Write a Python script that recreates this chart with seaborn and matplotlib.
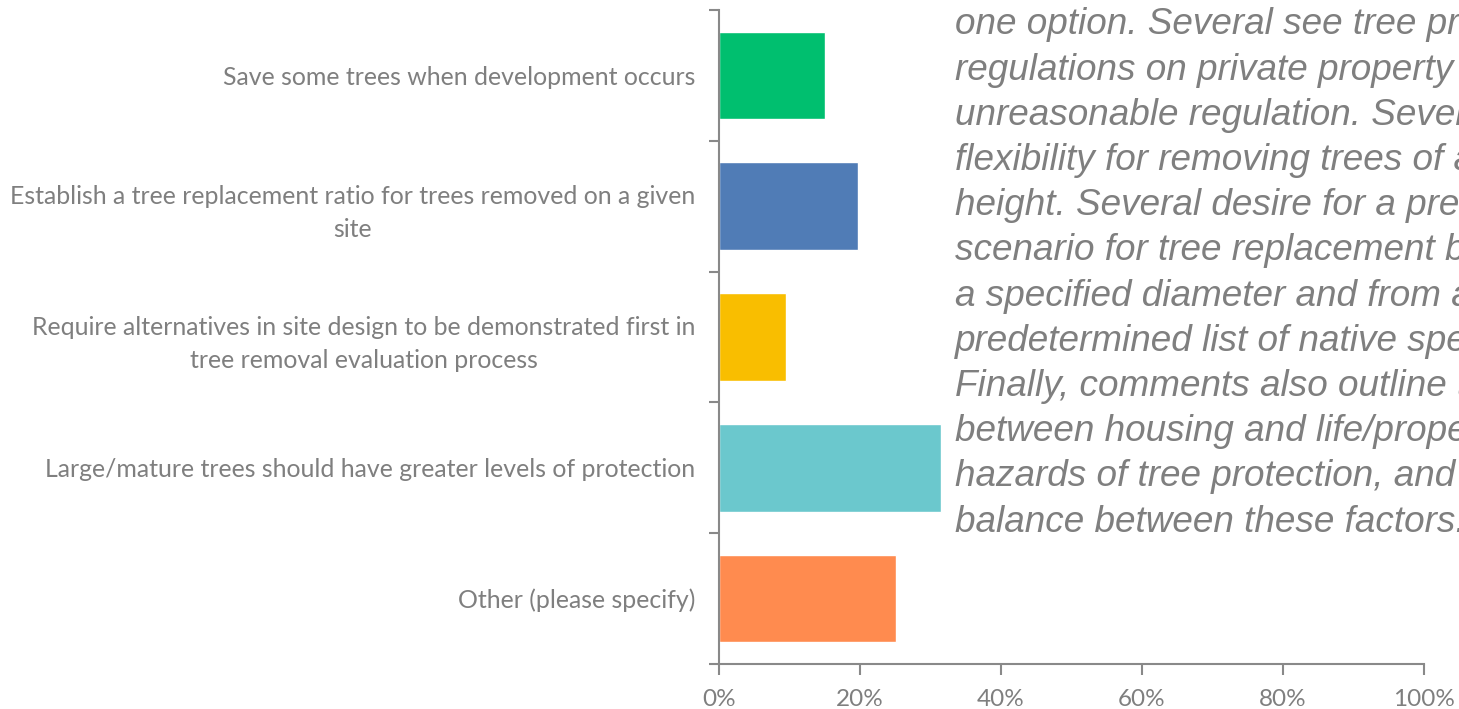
import matplotlib
matplotlib.use("Agg")
import matplotlib.pyplot as plt
import seaborn as sns
import pandas as pd
import numpy as np

categories = [
    "Save some trees when development occurs",
    "Establish a tree replacement ratio for trees removed on a given\nsite",
    "Require alternatives in site design to be demonstrated first in\ntree removal evaluation process",
    "Large/mature trees should have greater levels of protection",
    "Other (please specify)",
]
values = [15.0, 19.7, 9.5, 31.5, 25.1]
colors = ["#00BF6F", "#507CB6", "#F9BE00", "#6BC8CD", "#FF8B4F"]
x_ticks = [0, 20, 40, 60, 80, 100]
x_tick_labels = ["0%", "20%", "40%", "60%", "80%", "100%"]

note_lines = [
    "one option. Several see tree protection",
    "regulations on private property as an",
    "unreasonable regulation. Several want",
    "flexibility for removing trees of a certain",
    "height. Several desire for a prescribed",
    "scenario for tree replacement based on",
    "a specified diameter and from a",
    "predetermined list of native species.",
    "Finally, comments also outline tension",
    "between housing and life/property",
    "hazards of tree protection, and desire",
    "balance between these factors.",
]

sns.set_theme(style="white")
plt.rcParams["font.family"] = ["Lato", "DejaVu Sans"]

df = pd.DataFrame({"cat": categories, "val": values})

fig = plt.figure(figsize=(14.59, 7.09), dpi=100)
ax = fig.add_axes([719 / 1459, 1 - 664 / 709, (1424 - 719) / 1459, (664 - 10) / 709])

sns.barplot(data=df, y="cat", x="val", hue="cat", palette=colors, legend=False,
            orient="h", width=0.67, ax=ax, saturation=1)

ax.set_xlim(0, 100)
ax.set_ylim(len(categories) - 0.5, -0.5)
ax.set_xlabel("")
ax.set_ylabel("")
ax.set_xticks(x_ticks)
ax.set_xticklabels(x_tick_labels, color="#7F7F7F", fontsize=17.5)
ax.set_yticks(range(len(categories)))
ax.set_yticklabels(categories, color="#7F7F7F", fontsize=17.9, multialignment="center",
                   linespacing=1.52)
ax.set_yticks(np.arange(-0.5, len(categories), 1.0), minor=True)
ax.tick_params(axis="y", which="major", length=0, pad=17)
ax.tick_params(axis="y", which="minor", length=7, width=1.5, color="#898989", direction="out", left=True)
ax.tick_params(axis="x", which="major", length=8, width=1.5, color="#898989", direction="out",
               bottom=True, pad=10)
for s in ["top", "right"]:
    ax.spines[s].set_visible(False)
for s in ["left", "bottom"]:
    ax.spines[s].set_color("#898989")
    ax.spines[s].set_linewidth(1.5)

y0 = 25
step = 45.2
for i, line in enumerate(note_lines):
    fig.text(955 / 1459, 1 - (y0 + i * step) / 709, line, ha="left", va="center",
             fontsize=26.6, style="italic", color="#7F7F7F", family="Liberation Sans")

fig.savefig("out.png", dpi=100)
